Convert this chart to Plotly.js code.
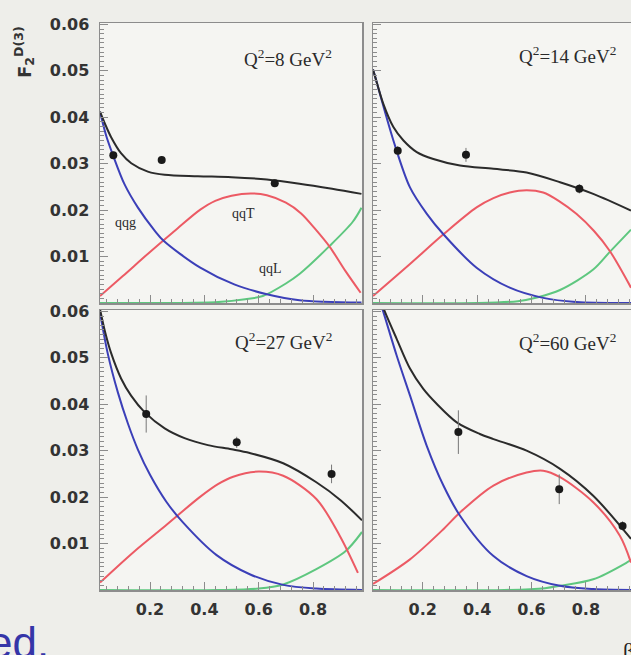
<!DOCTYPE html>
<html>
<head>
<meta charset="utf-8">
<script src="https://cdn.plot.ly/plotly-3.0.1.min.js"></script>
<style>html,body{margin:0;padding:0;background:#eeeeea;}#chart{width:631px;height:655px;}</style>
</head>
<body>
<div id="chart"></div>
<script>
// ---- Data ----
const q2Labels = ["Q<sup>2</sup>=8 GeV<sup>2</sup>", "Q<sup>2</sup>=14 GeV<sup>2</sup>", "Q<sup>2</sup>=27 GeV<sup>2</sup>", "Q<sup>2</sup>=60 GeV<sup>2</sup>"];
const componentNames = ["qqg", "qqT", "qqL"];
const xTickVals = [0.2, 0.4, 0.6, 0.8];
const yTickVals = [0.01, 0.02, 0.03, 0.04, 0.05, 0.06];

// Panel 1: Q2 = 8
const p1TotB = [0.016,0.035,0.057,0.094,0.131,0.192,0.254,0.376,0.5,0.63,0.75,0.87,0.978];
const p1TotF = [0.0412,0.0385,0.0357,0.0322,0.0301,0.0283,0.0276,0.0273,0.0271,0.0266,0.0257,0.0246,0.0235];
const p1QqgB = [0.016,0.04,0.064,0.106,0.155,0.217,0.25,0.385,0.51,0.63,0.75,0.978];
const p1QqgF = [0.0412,0.0358,0.0318,0.0256,0.0206,0.0156,0.0134,0.0076,0.0040,0.0019,0.0006,0.0001];
const p1QqTB = [0.016,0.1,0.2,0.3,0.385,0.44,0.5,0.57,0.63,0.7,0.756,0.81,0.86,0.92,0.975];
const p1QqTF = [0.0015,0.0058,0.0110,0.0160,0.0201,0.0220,0.0231,0.0236,0.0232,0.0216,0.0193,0.0158,0.0122,0.0068,0.0022];
const p1QqLB = [0.016,0.3,0.45,0.55,0.615,0.7,0.751,0.861,0.946,0.978];
const p1QqLF = [0,0,0.0002,0.0008,0.0015,0.0042,0.0063,0.0123,0.0175,0.0205];
const p1DatB = [0.065,0.243,0.659];
const p1DatF = [0.0318,0.0308,0.0258];
const p1DatE = [0.0008,0.0008,0.0008];

// Panel 2: Q2 = 14
const p2TotB = [0.017,0.025,0.055,0.092,0.129,0.178,0.239,0.337,0.46,0.582,0.705,0.827,0.966];
const p2TotF = [0.0503,0.0487,0.0429,0.0379,0.0350,0.0325,0.0310,0.0296,0.0289,0.0281,0.0260,0.0235,0.0199];
const p2QqgB = [0.017,0.025,0.092,0.153,0.215,0.276,0.398,0.52,0.643,0.765,0.966];
const p2QqgF = [0.0503,0.0487,0.0350,0.0249,0.0192,0.0148,0.0076,0.0033,0.0011,0.0002,0.0];
const p2QqTB = [0.017,0.153,0.276,0.398,0.46,0.52,0.582,0.643,0.70,0.765,0.83,0.888,0.966];
const p2QqTF = [0.0015,0.0084,0.0148,0.0206,0.0226,0.0238,0.0243,0.0238,0.0220,0.0192,0.0155,0.0112,0.0033];
const p2QqLB = [0.017,0.4,0.55,0.62,0.705,0.827,0.888,0.966];
const p2QqLF = [0,0,0.0004,0.0012,0.0028,0.0072,0.0110,0.0158];
const p2DatB = [0.108,0.359,0.776];
const p2DatF = [0.0328,0.0319,0.0246];
const p2DatE = [0.0010,0.0015,0.0010];

// Panel 3: Q2 = 27
const p3TotB = [0.016,0.035,0.057,0.094,0.131,0.18,0.254,0.327,0.413,0.5,0.567,0.69,0.812,0.9,0.98];
const p3TotF = [0.0605,0.0555,0.0510,0.0455,0.0418,0.0383,0.0348,0.0327,0.0312,0.0303,0.0295,0.0273,0.0232,0.0194,0.0150];
const p3QqgB = [0.016,0.045,0.082,0.119,0.155,0.2,0.26,0.322,0.445,0.567,0.69,0.812,0.98];
const p3QqgF = [0.0598,0.0508,0.0425,0.0358,0.0303,0.0248,0.0190,0.0145,0.0075,0.0034,0.0011,0.0003,0.0];
const p3QqTB = [0.016,0.138,0.26,0.383,0.45,0.506,0.6,0.69,0.812,0.898,0.965];
const p3QqTF = [0.0016,0.0081,0.0140,0.0200,0.0228,0.0244,0.0255,0.0246,0.0196,0.0117,0.0037];
const p3QqLB = [0.016,0.45,0.6,0.69,0.812,0.92,0.98];
const p3QqLF = [0,0,0.0003,0.0012,0.0045,0.0084,0.0125];
const p3DatB = [0.186,0.519,0.868];
const p3DatF = [0.0379,0.0318,0.0250];
const p3DatE = [0.0040,0.0012,0.0020];

// Panel 4: Q2 = 60
const p4TotB = [0.017,0.061,0.104,0.153,0.202,0.251,0.325,0.41,0.46,0.582,0.705,0.827,0.966];
const p4TotF = [0.0665,0.0599,0.0541,0.0477,0.0433,0.0401,0.0361,0.0336,0.0325,0.0300,0.0261,0.0203,0.0110];
const p4QqgB = [0.017,0.055,0.104,0.153,0.215,0.276,0.337,0.46,0.582,0.705,0.827,0.966];
const p4QqgF = [0.0670,0.0599,0.0505,0.0419,0.0310,0.0225,0.0160,0.0073,0.0030,0.0009,0.0002,0.0];
const p4QqTB = [0.017,0.153,0.276,0.337,0.46,0.582,0.643,0.705,0.827,0.925,0.966];
const p4QqTF = [0.0013,0.0066,0.0131,0.0167,0.0225,0.0253,0.0257,0.0243,0.0189,0.0117,0.0059];
const p4QqLB = [0.017,0.5,0.65,0.705,0.827,0.95,0.966];
const p4QqLF = [0,0,0.0004,0.0009,0.0023,0.0059,0.0065];
const p4DatB = [0.331,0.702,0.935];
const p4DatF = [0.0340,0.0217,0.0138];
const p4DatE = [0.0047,0.0032,0.0010];

// ---- Styling ----
const W = 631, H = 655;
const px = x => x / W;
const py = y => 1 - y / H;
const C = {tot:'#2b2b2b', qqg:'#3b3fb8', qqT:'#ec5a64', qqL:'#5ec77f'};

const panels = [
  {tot:[p1TotB,p1TotF], qqg:[p1QqgB,p1QqgF], qqT:[p1QqTB,p1QqTF], qqL:[p1QqLB,p1QqLF], dat:[p1DatB,p1DatF,p1DatE]},
  {tot:[p2TotB,p2TotF], qqg:[p2QqgB,p2QqgF], qqT:[p2QqTB,p2QqTF], qqL:[p2QqLB,p2QqLF], dat:[p2DatB,p2DatF,p2DatE]},
  {tot:[p3TotB,p3TotF], qqg:[p3QqgB,p3QqgF], qqT:[p3QqTB,p3QqTF], qqL:[p3QqLB,p3QqLF], dat:[p3DatB,p3DatF,p3DatE]},
  {tot:[p4TotB,p4TotF], qqg:[p4QqgB,p4QqgF], qqT:[p4QqTB,p4QqTF], qqL:[p4QqLB,p4QqLF], dat:[p4DatB,p4DatF,p4DatE]}
];

const traces = [];
panels.forEach((p, i) => {
  const xa = i === 0 ? 'x' : 'x' + (i + 1);
  const ya = i === 0 ? 'y' : 'y' + (i + 1);
  ['qqL','qqT','qqg','tot'].forEach(k => {
    traces.push({x:p[k][0], y:p[k][1], xaxis:xa, yaxis:ya, type:'scatter', mode:'lines',
      line:{color:C[k], width:2, shape:'spline', smoothing:0.9}, hoverinfo:'skip', showlegend:false});
  });
  traces.push({x:p.dat[0], y:p.dat[1], xaxis:xa, yaxis:ya, type:'scatter', mode:'markers',
    marker:{color:'#1a1a1a', size:8},
    error_y:{type:'data', array:p.dat[2], visible:true, color:'#777', thickness:1, width:0},
    showlegend:false});
});

const tickFont = {family:'DejaVu Sans', size:16, color:'#333', weight:'bold'};
const frameCol = '#8c8c8c';
function xAxis(domain, range, anchor, labels) {
  return {domain, range, anchor, showline:true, linecolor:frameCol, linewidth:1.5, mirror:true,
    ticks:'inside', ticklen:8, tickcolor:frameCol, tickvals:xTickVals,
    ticktext:xTickVals.map(v => v.toFixed(1)), showticklabels:labels, tickfont:tickFont,
    ticklabelstandoff:4,
    minor:{dtick:0.04, ticks:'inside', ticklen:4, tickcolor:frameCol, showgrid:false},
    showgrid:false, zeroline:false, fixedrange:true};
}
function yAxis(domain, anchor, labels, mirror) {
  return {domain, range:[0, 0.0603], anchor, showline:true, linecolor:frameCol, linewidth:1.5, mirror:mirror,
    ticks:'inside', ticklen:8, tickcolor:frameCol, tickvals:yTickVals,
    ticktext:yTickVals.map(v => v.toFixed(2)), showticklabels:labels, tickfont:tickFont,
    ticklabelstandoff:6,
    minor:{dtick:0.001, tick0:0, ticks:'inside', ticklen:4, tickcolor:frameCol, showgrid:false},
    showgrid:false, zeroline:false, fixedrange:true};
}
const leftX = [px(100), px(362)], rightX = [px(373), 1];
const topY = [py(303), py(23)], botY = [py(590), py(310)];
const leftR = [0.016, 0.98], rightR = [0.017, 0.966];

const annFont = {family:'Liberation Serif', size:19, color:'#2a2a2a'};
const lblFont = {family:'Liberation Serif', size:14, color:'#2a2a2a'};
const annotations = [
  {text:q2Labels[0], x:px(334), y:py(58), xanchor:'right', yanchor:'middle'},
  {text:q2Labels[1], x:px(618), y:py(55), xanchor:'right', yanchor:'middle'},
  {text:q2Labels[2], x:px(334), y:py(341), xanchor:'right', yanchor:'middle'},
  {text:q2Labels[3], x:px(618), y:py(342), xanchor:'right', yanchor:'middle'}
].map(a => Object.assign(a, {xref:'paper', yref:'paper', showarrow:false, font:annFont}));
[[componentNames[0],125,222],[componentNames[1],243,213],[componentNames[2],270,268]].forEach(([t,x,y]) => {
  annotations.push({text:t, x:px(x), y:py(y), xref:'paper', yref:'paper', showarrow:false,
    xanchor:'center', yanchor:'middle', font:lblFont});
});
annotations.push({text:'F<sub>2</sub><sup>D(3)</sup>', x:px(24), y:py(52), xref:'paper', yref:'paper',
  showarrow:false, textangle:-90, xanchor:'center', yanchor:'middle',
  font:{family:'DejaVu Sans', size:18, color:'#333', weight:'bold'}});
annotations.push({text:'ed.', x:px(51), y:py(642), xref:'paper', yref:'paper', showarrow:false,
  xanchor:'right', yanchor:'middle', font:{family:'Liberation Sans', size:44, color:'#3535a8'}});
annotations.push({text:'β', x:px(628), y:py(650), xref:'paper', yref:'paper', showarrow:false,
  xanchor:'center', yanchor:'middle', font:{family:'Liberation Serif', size:22, color:'#222'}});

const layout = {
  width:W, height:H, margin:{l:0, r:0, t:0, b:0},
  paper_bgcolor:'#eeeeea', plot_bgcolor:'#f5f5f2', showlegend:false,
  xaxis: xAxis(leftX, leftR, 'y', false),
  yaxis: yAxis(topY, 'x', true, true),
  xaxis2: xAxis(rightX, rightR, 'y2', false),
  yaxis2: yAxis(topY, 'x2', false, false),
  xaxis3: xAxis(leftX, leftR, 'y3', true),
  yaxis3: yAxis(botY, 'x3', true, true),
  xaxis4: xAxis(rightX, rightR, 'y4', true),
  yaxis4: yAxis(botY, 'x4', false, false),
  annotations
};
Plotly.newPlot('chart', traces, layout, {staticPlot:true, displayModeBar:false});
</script>
</body>
</html>
